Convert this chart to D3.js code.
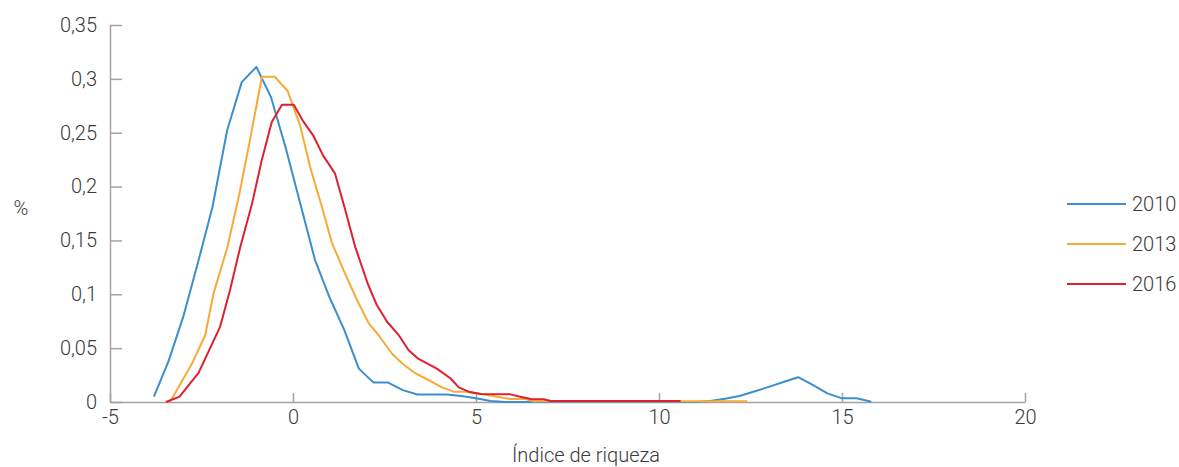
<!DOCTYPE html>
<html>
<head>
<meta charset="utf-8">
<script src="https://cdn.jsdelivr.net/npm/d3@7/dist/d3.min.js"></script>
<style>
  html, body { margin: 0; padding: 0; background: #fff; }
  svg { display: block; }
  text { font-family: Roboto, "Noto Sans", sans-serif; font-weight: 300; fill: #3a3a3a; }
</style>
</head>
<body>
<svg id="chart" width="1179" height="467"></svg>
<script>
// ---- data ----
const seriesNames = ["2010", "2013", "2016"];
const seriesColors = ["#3b8fcd", "#f7aa37", "#e01f30"];

const x2010 = [-3.8,-3.4,-3.0,-2.6,-2.2,-1.8,-1.4,-1.0,-0.6,-0.2,0.2,0.6,1.0,1.4,1.8,2.2,2.6,3.0,3.4,3.8,4.2,4.6,5.0,5.4,5.8,6.2,6.6,7.0,7.4,7.8,8.2,8.6,9.0,9.4,9.8,10.2,10.6,11.0,11.4,11.8,12.2,12.6,13.0,13.4,13.8,14.2,14.6,15.0,15.4,15.8];
const y2010 = [0.005,0.038,0.079,0.129,0.181,0.252,0.297,0.311,0.283,0.236,0.184,0.132,0.097,0.067,0.031,0.018,0.018,0.011,0.007,0.007,0.007,0.0055,0.0035,0.001,0,0,0,0,0,0,0,0,0,0,0,0,0,0,0.001,0.003,0.0056,0.0097,0.014,0.0186,0.023,0.0158,0.008,0.0034,0.0034,0.0003];

const x2013 = [-3.36,-2.77,-2.40,-2.17,-1.79,-1.46,-1.15,-0.85,-0.50,-0.15,0.20,0.47,0.79,1.06,1.38,1.75,2.07,2.37,2.70,2.98,3.30,3.75,4.07,4.39,4.71,5.03,5.58,5.94,6.35,6.58,12.41];
const y2013 = [0.000,0.035,0.062,0.101,0.144,0.194,0.248,0.302,0.302,0.289,0.256,0.218,0.181,0.148,0.1225,0.0947,0.073,0.0606,0.045,0.036,0.0276,0.0195,0.0136,0.0096,0.0096,0.0081,0.0049,0.0028,0.0028,0.0006,0.0006];

const x2016 = [-3.47,-3.10,-2.58,-1.99,-1.72,-1.44,-1.12,-0.85,-0.58,-0.30,0.02,0.29,0.56,0.82,1.15,1.43,1.70,2.04,2.29,2.57,2.89,3.16,3.43,3.93,4.30,4.53,4.80,5.12,5.94,6.21,6.53,6.85,7.04,10.59];
const y2016 = [0.000,0.005,0.027,0.070,0.104,0.144,0.184,0.225,0.260,0.276,0.276,0.260,0.247,0.229,0.212,0.178,0.144,0.110,0.090,0.0745,0.062,0.048,0.040,0.031,0.022,0.0136,0.0096,0.0074,0.0071,0.0049,0.0025,0.0025,0.001,0.001];

const xTicks = [-5, 0, 5, 10, 15, 20];
const yTicks = [0, 0.05, 0.1, 0.15, 0.2, 0.25, 0.3, 0.35];
const yTickLabels = ["0", "0,05", "0,1", "0,15", "0,2", "0,25", "0,3", "0,35"];
const xTitle = "Índice de riqueza";
const yTitle = "%";

// ---- drawing ----
const svg = d3.select("#chart");
const x = d3.scaleLinear().domain([-5, 20]).range([110, 1025]);
const y = d3.scaleLinear().domain([0, 0.35]).range([402, 25]);
const axisColor = "#a3a3a3";
const fontSize = "20px";

const xAxis = d3.axisBottom(x).tickValues(xTicks).tickSizeInner(-9).tickSizeOuter(0).tickPadding(8)
  .tickFormat(d => String(d));
const gx = svg.append("g").attr("transform", `translate(0,${y(0)})`).call(xAxis);

const yAxis = d3.axisLeft(y).tickValues(yTicks).tickSizeInner(-12).tickSizeOuter(0).tickPadding(13)
  .tickFormat((d, i) => yTickLabels[i]);
const gy = svg.append("g").attr("transform", `translate(${x(-5)},0)`).call(yAxis);

[gx, gy].forEach(g => {
  g.select(".domain").attr("stroke", axisColor).attr("stroke-width", 1.5);
  g.selectAll(".tick line").attr("stroke", axisColor).attr("stroke-width", 1.5);
  g.selectAll("text").attr("fill", "#3a3a3a")
    .style("font-size", fontSize).style("font-family", "Roboto, sans-serif").style("font-weight", 300);
});

const line = d3.line().x(d => x(d[0])).y(d => y(d[1]));
const allX = [x2010, x2013, x2016];
const allY = [y2010, y2013, y2016];
const g = svg.append("g");
seriesNames.forEach((name, i) => {
  const pts = allX[i].map((v, j) => [v, allY[i][j]]);
  g.append("path").datum(pts)
    .attr("fill", "none")
    .attr("stroke", seriesColors[i])
    .attr("stroke-width", 2)
    .attr("stroke-linejoin", "round")
    .attr("d", line);
});

// axis titles
svg.append("text").attr("x", 586).attr("y", 462).attr("text-anchor", "middle")
  .style("font-size", fontSize).text(xTitle);
svg.append("text").attr("x", 21).attr("y", 215).attr("text-anchor", "middle")
  .style("font-size", fontSize).text(yTitle);

// legend
const legendY = d3.scalePoint().domain(seriesNames).range([204, 284]);
const lg = svg.append("g");
seriesNames.forEach((name, i) => {
  lg.append("line").attr("x1", 1067).attr("x2", 1126)
    .attr("y1", legendY(name)).attr("y2", legendY(name))
    .attr("stroke", seriesColors[i]).attr("stroke-width", 2);
  lg.append("text").attr("x", 1132).attr("y", legendY(name)).attr("dy", "0.36em")
    .style("font-size", fontSize).text(name);
});
</script>
</body>
</html>
